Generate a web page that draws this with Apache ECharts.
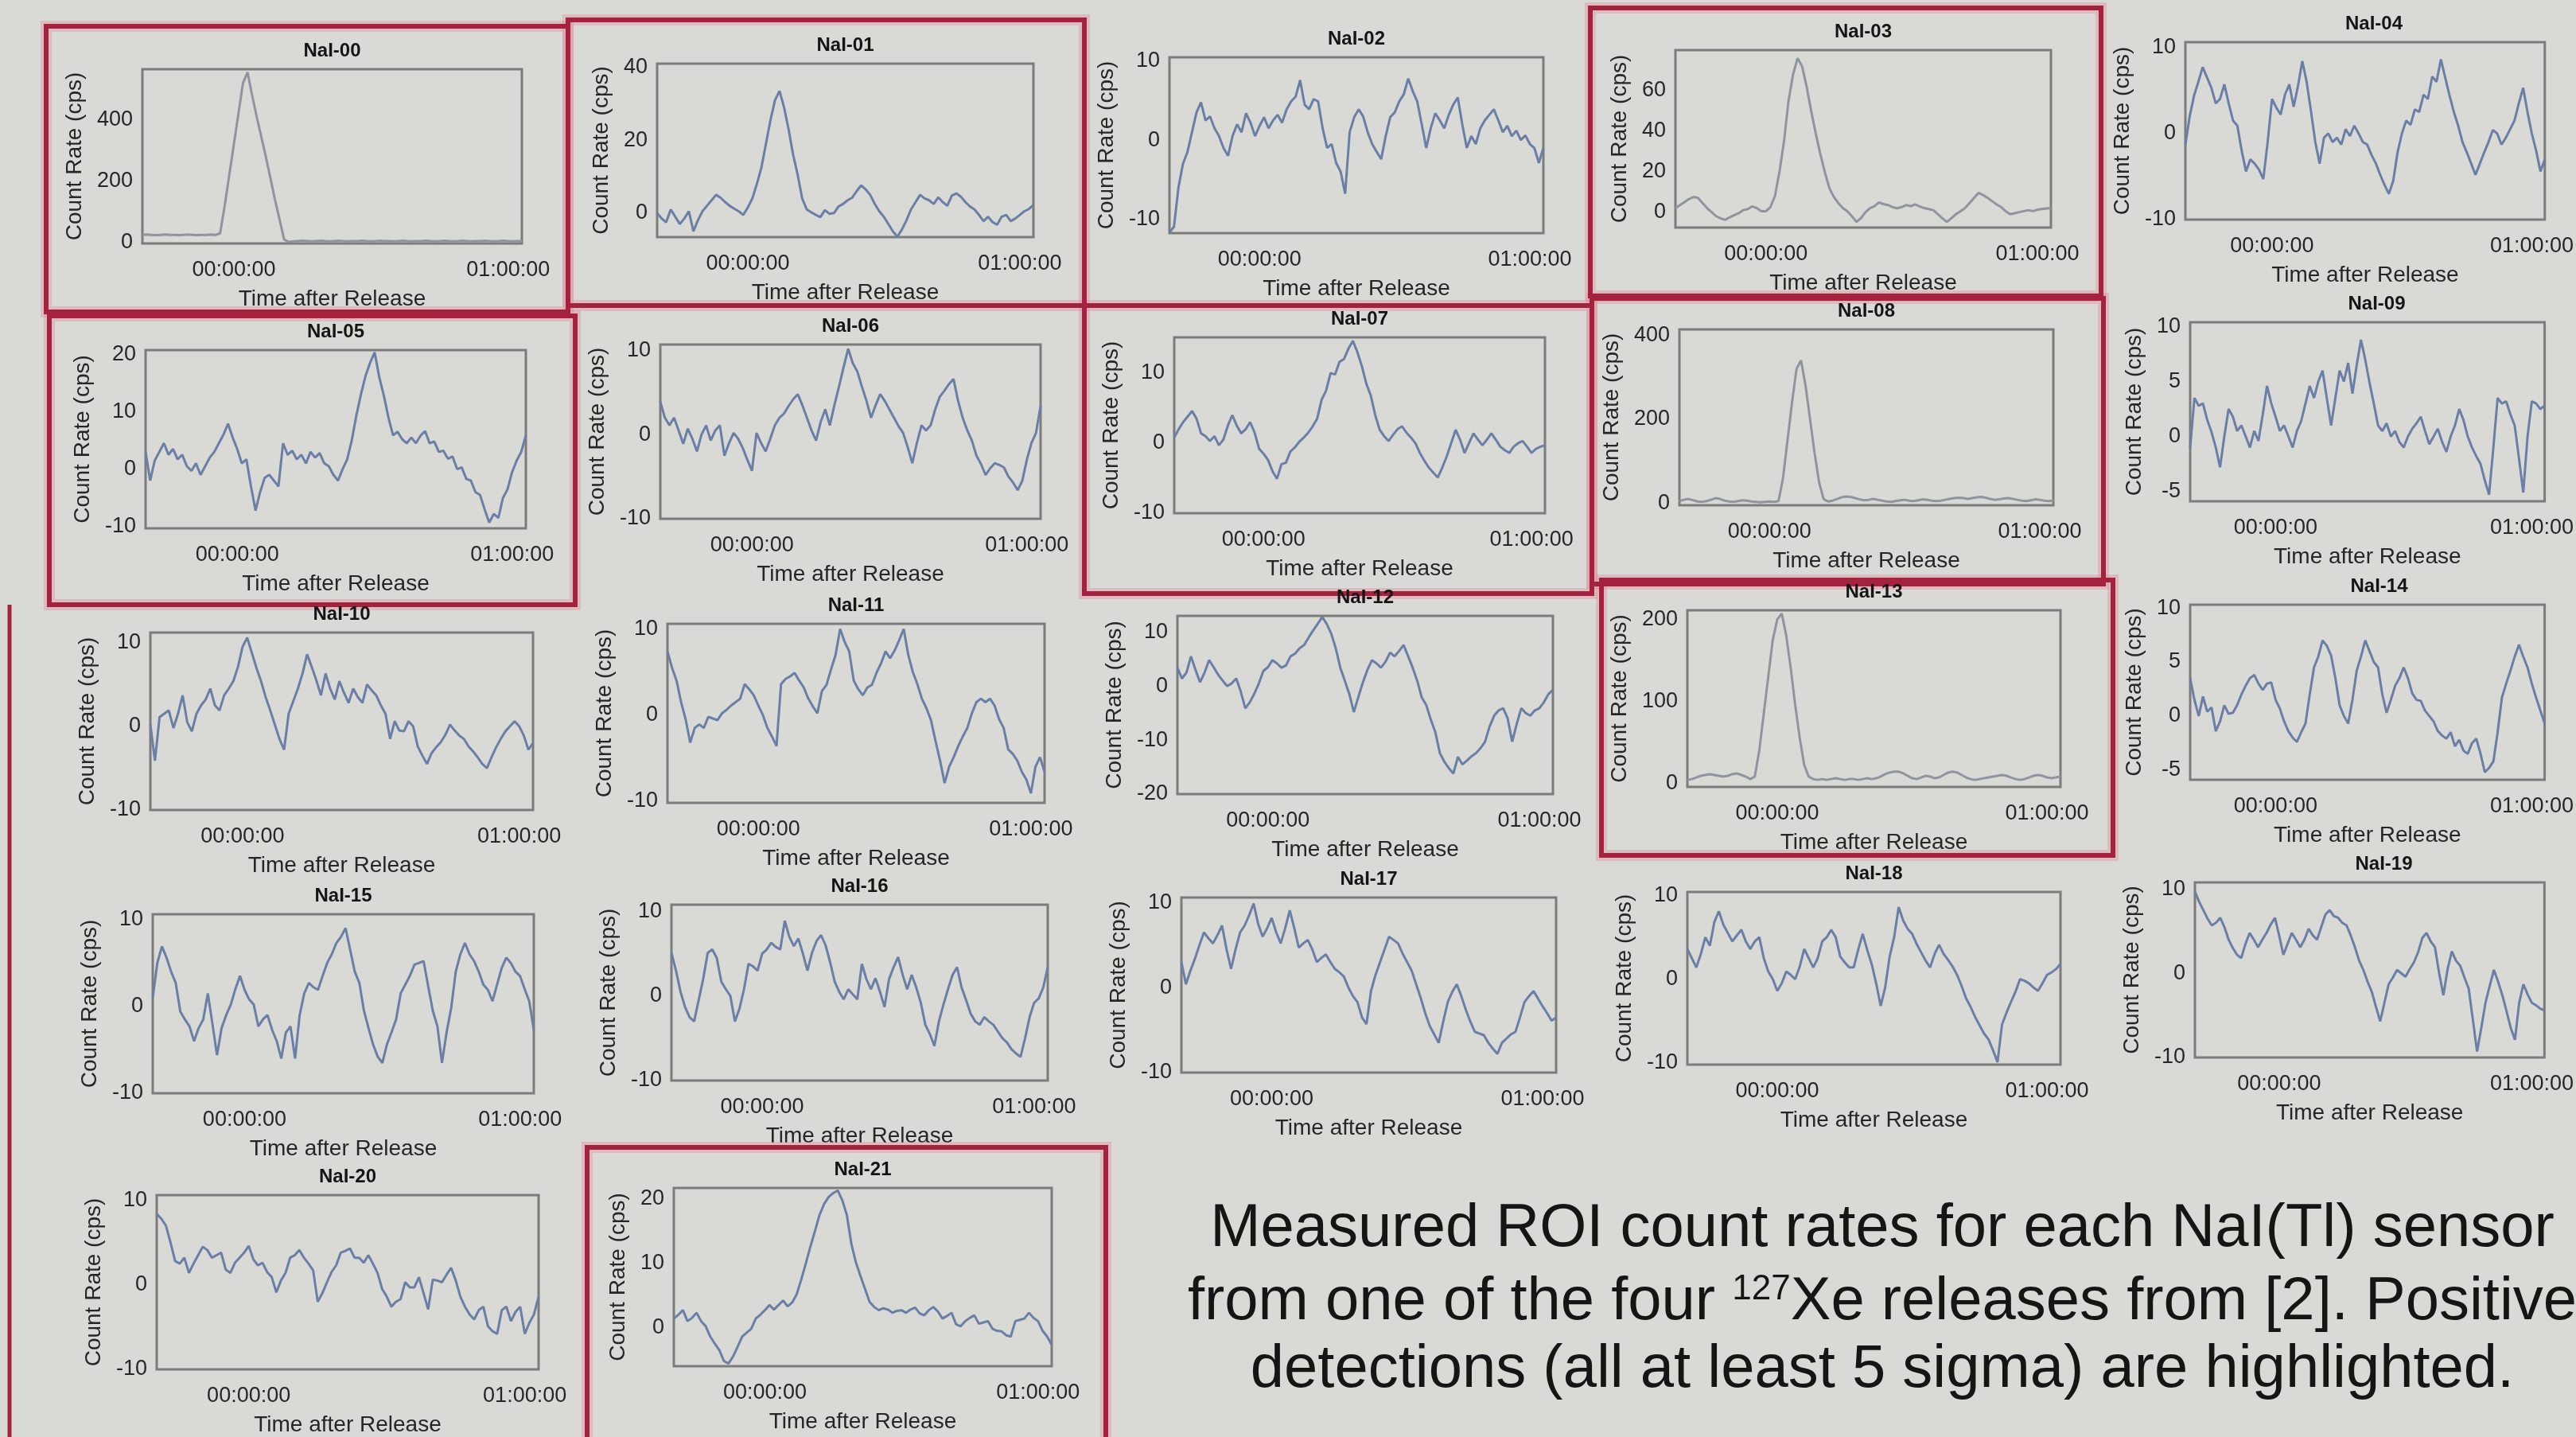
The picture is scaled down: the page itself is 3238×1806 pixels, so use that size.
<!DOCTYPE html>
<html>
<head>
<meta charset="utf-8">
<script src="https://cdn.jsdelivr.net/npm/echarts@6/dist/echarts.min.js"></script>
<style>
  html, body { margin: 0; padding: 0; background: #d9dad6; }
  #chart { width: 3238px; height: 1806px; }
</style>
</head>
<body>
<div id="chart"></div>
<script>
// ---------------- DATA ----------------
// sample times, minutes after release
const TIME = [-20,-19,-18,-17,-16,-15,-14,-13,-12,-11,-10,-9,-8,-7,-6,-5,-4,-3,-2,-1,
  0,1,2,3,4,5,6,7,8,9,10,11,12,13,14,15,16,17,18,19,20,21,22,23,24,25,26,27,28,29,
  30,31,32,33,34,35,36,37,38,39,40,41,42,43,44,45,46,47,48,49,50,51,52,53,54,55,56,57,58,59,
  60,61,62,63];

const X_TICKS = [0, 60];
const X_TICK_LABELS = ['00:00:00', '01:00:00'];

const NAMES = ['NaI-00','NaI-01','NaI-02','NaI-03','NaI-04','NaI-05','NaI-06','NaI-07','NaI-08','NaI-09',
  'NaI-10','NaI-11','NaI-12','NaI-13','NaI-14','NaI-15','NaI-16','NaI-17','NaI-18','NaI-19','NaI-20','NaI-21'];
// "Positive detections (all at least 5 sigma)"
const HIGHLIGHTED = ['NaI-00','NaI-01','NaI-03','NaI-05','NaI-07','NaI-08','NaI-13','NaI-21'];

const nai00 = [25,26,25,24,25,26,25,25,24,25, 26,25,24,25,25,26,25,30,120,220,
  320,420,520,555,480,410,345,280,210,140, 75,10,2,4,5,6,5,4,5,6, 5,4,5,6,5,4,5,5,6,5,
  4,5,6,5,5,4,5,6,5,4, 5,5,6,5,4,5,6,5,4,5, 6,5,4,5,5,6,5,4,5,6, 5,4,5,5];
const nai01 = [0,-1.5,-2.5,1,-1,-3,-1.5,0.5,-5,-2, 0.5,2,3.5,5,4.2,3,2,1.2,0.5,-0.5,
  1.5,4,8,12.5,19,25.5,31,33.5,29,23, 16,10.5,4,1,0.2,-0.5,-1.1,0.8,-0.2,0,
  1.8,2.5,3.5,4.2,6,7.6,6.5,5,2.5,0.5, -1,-3,-5,-6.5,-4.5,-2,1,3,5,4,
  3.5,2.5,4.3,3,2,4.8,5.4,4.5,3,1.8, 1,-0.5,-2.2,-1,-2.5,-3.2,-1,-0.5,-2.2,-1.5, -0.5,0.5,1.1,2.2];
const nai02 = [-11.7,-11,-6,-3,-1.5,1,3.5,4.8,2.5,3, 1.5,0.5,-1,-2,0.5,2,1,3.4,2.2,0.5,
  1.8,2.9,1.5,2.5,3.2,2.2,3.9,4.9,5.5,7.6, 4.5,3.9,5.2,4.9,1.5,-1,-0.5,-2.9,-4,-6.8,
  1,2.9,3.9,3,1,-0.5,-1.5,-2.4,0.5,2.9, 3.5,4.9,5.8,7.8,6.2,4.9,2,-1,1.5,3.4,
  2.5,1.5,3.2,4.5,5.4,2,-1,0.5,-0.5,1.5, 2.5,3.2,3.9,2.5,1,1.8,0.5,1.2,0,0.6, -0.5,-1,-2.9,-1];
const nai03 = [2,3.5,5,6.5,7.5,7,4.5,2,0,-2, -3,-3.8,-2.5,-1.5,-0.5,1,1.5,2.9,2,0.5,
  0.5,2.5,8,20,35,55,68,76,72,62, 50,39,29,20,12,7.6,4.5,2,0.5,-2,
  -4.8,-3,0,2,3,4.8,4,3.5,2.5,1.9, 2.5,3.5,3,3.8,2.8,2,1.5,1,-1,-3,
  -4.8,-3,-1,0.5,2,4.5,7,9.5,8.5,7, 5.5,3.8,2.5,0.5,-1,-0.5,0,0.5,1,0.5, 1.2,1.5,1.8,2];
const nai04 = [-1.3,2,4.4,6,7.7,6.5,5.3,3.5,4,5.7, 3.5,1.5,0.9,-2,-4.4,-3,-3.5,-4.2,-5.3,-1,
  4,3,2.2,4.5,5.7,3.1,5.5,8.4,6,2.6, -1,-3.5,-0.5,0,-1,-0.5,-1.3,0.5,-0.3,0.9,
  0,-1,-1.3,-2.5,-3.5,-4.8,-6,-7,-5.5,-2.2, 0,1.5,1,2.8,2.5,4.5,4,6.6,6,8.6,
  6.5,4.4,2.5,0.9,-1,-2.2,-3.5,-4.8,-3.5,-2.2, -1,0.4,0,-1.3,-0.5,0.5,1.5,3.5,5.3,2.5, 0,-2,-4.4,-3];
const nai05 = [3,-2,1.5,3,4.5,2.5,3.5,1.7,2.5,0.5, -0.3,1,-1,0.5,2,3,4.5,6,7.9,5.5,
  3.5,1,1.7,-3,-7.2,-4,-1.5,-1,-2,-3, 4.5,2.5,3.2,1.7,2.5,1,3,2,2.8,1,
  0.5,-1,-2,0,1.7,5,9.3,13,16.2,18.5, 20.3,16,12.8,9,5.9,6.5,5.2,4.5,5.5,4.5,
  5.8,6.6,4.5,4.8,3,3.2,1.8,2.2,0,0.3, -1.7,-2,-4,-4.5,-7,-9.3,-7.8,-8.5,-5,-3.5, -0.5,1.5,3,5.9];
const nai06 = [3.9,2,1.1,2,0.5,-1.1,0.7,-0.5,-2,0, 1.1,-0.7,0.5,1.1,-2.5,-1,0.2,-0.5,-1.6,-3,
  -4.3,0.2,-1,-2,-0.5,1.1,2,2.5,3.4,4.2, 4.8,3.5,2,0.5,-0.7,1.5,3,1.1,3.5,5.7,
  8,10.2,8.5,7.5,5.7,4,2,3.5,4.8,4, 3,2,1,0.2,-1.5,-3.4,-1,1.1,0.5,1.1,
  3,4.5,5.2,6,6.6,4,2,0.5,-0.7,-2.5, -3.5,-4.8,-4,-3.4,-3.6,-3.9,-5,-5.7,-6.6,-5.5, -3,-1,0.2,3.4];
const nai07 = [0.8,2,3,3.8,4.6,3.5,1.4,1,0.3,1, -0.3,0.5,2.5,4,2.5,1.4,2,3,1.5,-0.8,
  -1.5,-2.4,-4,-5.1,-3,-2.8,-1.2,-0.6,0.2,0.8, 1.5,2.4,3.5,6.2,7.5,10,9.8,11.6,12,13.5,
  14.6,13,11,8.5,6.8,4,1.9,1,0.3,1.2, 2,2.4,1.5,0.8,0,-1.4,-2.5,-3.5,-4.2,-4.9,
  -3.5,-1.9,0,1.9,0.5,-1.4,0,1.4,0.5,-0.3, 0.5,1.4,0.5,-0.5,-1,-1.4,-0.5,0,0.3,-0.5, -1.4,-0.8,-0.5,-0.3];
const nai08 = [5,8,10,7,4,3,5,8,12,10, 6,4,3,5,7,6,4,3,2,3,
  4,3,5,60,150,240,320,340,280,200, 120,50,10,4,6,10,14,16,15,12,
  9,7,8,10,8,6,4,3,5,7, 8,6,5,7,9,8,6,5,6,8,
  10,12,13,12,10,12,14,15,13,10, 8,9,11,12,10,8,6,5,7,9, 8,6,5,6];
const nai09 = [-1,3.5,2.8,3,1.5,0.4,-1,-2.8,0,2.5, 1.8,0.5,1,0,-1,0.5,-0.4,2,4.6,3,
  1.8,0.5,1,0,-1,0.5,1.4,3,4.6,3.5, 5,6,3.5,1,3.5,6,5,6.7,3.9,6.5,
  8.8,7,4.9,3,1,0.5,1.2,0,0.5,-0.5, -1,0,0.7,1.2,1.8,0.5,-0.7,0,0.7,-0.5,
  -1.4,0,1,2.5,1.5,0,-1,-1.8,-2.5,-4, -5.3,-1,3.5,3,3.2,2,1,-2,-5.1,0, 3.2,3,2.5,2.8];
const nai10 = [0.2,-4.1,1.1,1.5,1.9,-0.2,1.5,3.7,0.5,-0.6, 1.5,2.5,3.2,4.5,2.5,1.9,3.7,4.5,5.4,7.1,
  9.5,10.6,8.8,7,5.4,3.5,1.9,0.2,-1.5,-2.8, 1.5,3,4.5,6.3,8.6,7.1,5.5,3.7,6.3,4.5,
  3.2,5.4,4,2.8,4.5,3.5,2.8,5,4.3,3.7, 2.5,1.5,-1.5,0.6,-0.5,-0.6,0.6,0,-2.4,-3.5,
  -4.5,-3.2,-2.5,-1.9,-1,0.2,-0.5,-1.1,-1.5,-2.4, -3,-3.7,-4.5,-5,-3.7,-2.5,-1.5,-0.6,0,0.6, 0,-1.1,-2.8,-2];
const nai11 = [7.4,5.5,4,1.5,-0.5,-3.2,-1.5,-1.1,-1.5,-0.2, -0.4,-0.6,0.2,0.6,1.1,1.5,1.9,3.6,3,2.3,
  1.1,0,-1.5,-2.5,-3.6,3.6,4.2,4.5,4.9,4, 3.2,1.9,1,0.2,2.8,3.5,5.3,7,10,8.5,
  7.4,4,3,2.3,3.2,3.5,4.9,6,7.4,6.6, 7.5,8.7,10,7,5,3.6,1.9,0.8,-0.6,-3,
  -5.3,-7.9,-6,-4.9,-3.6,-2.5,-1.5,0.2,1.5,1.9, 1.5,1.9,1.1,-0.5,-1.5,-4,-4.5,-5.3,-6.6,-7.5, -9.1,-6,-4.9,-6.6];
const nai12 = [3.4,1.4,2.5,5.5,3,0.7,2.5,4.8,3.5,2.1, 1,0,0.5,1.4,-1,-4.1,-3,-1.4,0.5,2.8,
  3.5,4.8,4.2,3.4,3.8,5.5,6,7,7.6,9, 10.3,11.5,12.8,11.5,9.7,7,3.4,1,-1.5,-4.8,
  -2,0.7,3,4.8,4.2,3.4,4.5,6.2,5.5,6.5, 7.6,5.5,3.4,1,-2.1,-3.5,-6.2,-8.5,-12.4,-14,
  -15.2,-16.2,-13.1,-14.5,-13.8,-13,-12.4,-11.5,-10.3,-7.5, -5.5,-4.5,-4.1,-6,-10.3,-7,-4.1,-5,-5.5,-4.5, -4.1,-3,-1.5,-0.7];
const nai13 = [4,5,7,9,10,11,10,9,8,9, 11,12,10,8,5,8,40,85,130,175,
  200,207,180,140,95,55,22,8,5,4, 5,4,5,6,5,4,5,5,4,5,
  6,5,6,8,11,13,14,14,12,9, 6,5,7,9,8,6,7,10,13,14,
  13,10,7,5,4,5,6,7,8,9, 10,9,7,5,4,5,7,9,10,9, 7,6,7,8];
const nai14 = [3.5,1.5,0,1.8,0.4,0.8,-1.4,-0.5,1,0.2, 0.3,1,2,2.8,3.5,3.8,3,2.4,3,3.1,
  1.5,0.7,-0.5,-1.4,-2,-2.4,-1.5,-0.7,2,4.5, 5.5,7,6.5,5.6,3.5,1,0,-0.7,1.5,4.2,
  5.5,7,6,5,4.5,2,0.3,1.5,2.8,3.5, 4.5,3.5,2.1,1.5,1.4,0.5,0,-0.5,-1.4,-1.8,
  -2.1,-1.5,-2.8,-2.2,-3.2,-3.5,-2.5,-2.1,-3.5,-5.2, -4.8,-4.2,-1.5,1.7,3,4.2,5.5,6.6,5.5,4.5, 3,1.7,0.5,-0.7];
const nai15 = [1,5,6.9,5.6,4,2.7,-0.6,-1.5,-2.3,-4, -2.5,-1.5,1.5,-2,-5.6,-2.5,-1,0.2,2,3.5,
  1.9,0.8,0.2,-2.3,-1.5,-1,-2.7,-4,-6,-3, -2.3,-6,-1,1.5,2.7,2.2,1.9,3.5,5,6,
  7.3,8,9,6.5,4,2.7,-0.5,-2.5,-4.4,-5.8, -6.5,-4.4,-3,-1.5,1.5,2.5,3.5,4.8,5,5.2,
  2.3,-0.5,-2.3,-6.5,-3,-0.2,4,6,7.3,6, 5.2,4,2.5,1.9,0.6,2.5,4.4,5.6,5,4, 3.5,2,0.6,-2.7];
const nai16 = [5.1,3,0.5,-1.3,-2.5,-3,-0.5,2,5.1,5.5, 4.5,1.7,0.8,0,-3,-1.5,0.8,3.8,3.5,3,
  5,5.5,6.3,5.8,5.5,8.9,7,5.9,6.8,5, 3,5.1,6.5,7.2,6,4,1.7,0.5,-0.4,0.8,
  0.2,-0.4,3.8,2,0.8,2.1,0.5,-1.3,2,3.4, 4.6,2.5,0.8,2.5,1,-0.8,-3.4,-4.5,-5.9,-3,
  -1,0.8,2.5,3.4,1,-0.5,-2.1,-3,-3.4,-2.5, -3,-3.4,-4.2,-5,-5.5,-6.3,-6.8,-7.2,-5,-2.5, -0.8,-0.3,1,3.4];
const nai17 = [3,0.4,2,3.4,5,6.5,5.8,5.2,6.2,7.3, 4.5,2.2,4.5,6.5,7.3,8.5,9.9,7.5,6,7,
  8.2,6.5,5.2,7,9.1,7,4.7,5.2,5.6,4.5, 3,3.5,3.9,3,2.2,1.8,1.3,0,-1,-1.7,
  -3.5,-4.3,-0.4,1.5,3,4.5,6,5.6,5.2,4, 3,2,0.4,-1.2,-3,-4.5,-5.5,-6.5,-4,-1.7,
  -0.5,0.4,-1,-2.6,-4,-5.2,-5.4,-5.6,-6.5,-7.2, -7.8,-6.5,-6,-5.5,-5.2,-3.5,-1.7,-1,-0.4,-1.3, -2.2,-3,-3.9,-3.5];
const nai18 = [3.6,2.5,1.4,3,5,4,6.8,8.1,6.5,5.5, 4.5,5.2,5.9,4.5,3.6,4.5,5,2.5,0.9,0,
  -1.4,-0.5,0.9,0.5,0,1.5,3.6,2.5,1.4,2.5, 4.5,5,5.9,5,2.7,2,1.4,1.4,3.5,5.4,
  3.5,1.8,-0.5,-3.2,-1,2.7,5,8.6,7,6, 5.4,4.2,3.2,2.2,1.4,3,4.1,3,2.3,1.5,
  0.5,-0.8,-2.3,-3.3,-4.5,-5.5,-6.5,-7.2,-8.5,-9.9, -5.4,-4,-2.7,-1.5,0,-0.2,-0.5,-1,-1.4,-0.5, 0.5,0.8,1.2,1.8];
const nai19 = [9.7,8.5,7.5,6.5,5.7,6,6.6,5.5,4,3, 2.2,1.8,3.5,4.8,4,3.1,4,4.8,5.8,6.6,
  4.5,2.2,3.5,4.8,4,3.1,4,5.3,4.5,4, 5.5,7,7.5,6.8,6.6,6,5.7,4.5,3.1,1.5,
  0.4,-1,-2.2,-4,-5.7,-3.5,-1.3,-0.5,0.4,0, -0.4,0.5,1.3,2.5,4.2,4.8,3.8,3.1,0,-2.6,
  0.5,2.6,1.5,0.9,-0.5,-1.8,-5.5,-9.3,-6.5,-3.5, -1.5,0.4,-1,-2.6,-4.5,-6.5,-7.9,-3.5,-1.3,-2.5, -3.5,-3.8,-4.2,-4.4];
const nai20 = [8.4,7.8,7,5,2.8,2.5,3.2,1.4,2.5,3.5, 4.5,4.1,3.2,3.5,3.8,1.8,1.4,2.6,3.2,3.8,
  4.6,3,2.3,2.6,1.5,0.9,-0.9,0.5,1.4,3.2, 3.5,4.1,3.2,2.5,1.7,-2,-1,0.3,1.5,2.3,
  3.8,4,4.3,3.2,3.2,2.6,3.5,2.5,1.4,-0.5, -1.4,-2.6,-2,-1.7,0.3,-0.3,-0.3,0.9,-1,-2.9,
  0.6,0.5,0.3,1.2,2,0.5,-1.4,-2.6,-3.5,-4.1, -3,-2.6,-4.9,-5.5,-5.8,-3,-2.6,-4.3,-3.2,-2.6, -5.8,-4.5,-3.5,-1.4];
const nai21 = [1.4,2,2.7,1,1.5,2.3,1,0.2,-1.4,-2.5, -3.5,-5.2,-5.6,-4.5,-3,-1.4,-0.8,-0.2,1.4,2,
  2.7,3.5,2.8,3.5,4.2,3.3,3.9,5.2,7.5,10, 12.6,15,17.5,19.2,20.3,20.9,21.3,19.8,17.5,13,
  10.1,8,6,4,3.2,2.7,3,2.8,2.3,2.6, 2.7,2.3,2.8,3.1,2.2,1.9,2.7,3.2,2.5,1.4,
  1.8,2.3,0.5,0.2,1,1.5,1.9,0.6,0.8,1, -0.2,-0.5,-0.6,-1.2,-1.4,1,1.2,1.4,2.3,1.5, 1,-0.5,-1.4,-2.7];

const SERIES_VALUES = [nai00,nai01,nai02,nai03,nai04,nai05,nai06,nai07,nai08,nai09,nai10,
  nai11,nai12,nai13,nai14,nai15,nai16,nai17,nai18,nai19,nai20,nai21];

// y-axis tick labels per panel
const Y_TICKS = [[0,200,400],[0,20,40],[-10,0,10],[0,20,40,60],[-10,0,10],[-10,0,10,20],
  [-10,0,10],[-10,0,10],[0,200,400],[-5,0,5,10],[-10,0,10],[-10,0,10],[-20,-10,0,10],
  [0,100,200],[-5,0,5,10],[-10,0,10],[-10,0,10],[-10,0,10],[-10,0,10],[-10,0,10],[-10,0,10],[0,10,20]];

// ---------------- AXIS LIMITS (min, max of each count-rate axis) ----------------
const Y_LIMITS = [[-3,565],[-6.6,41],[-11.8,10.5],[-7.6,80],[-10,10.6],[-10.3,20.7],[-10,10.7],
  [-10,15.1],[-5,414],[-5.9,10.4],[-10,11.2],[-10.2,10.6],[-20,13],[-4.6,211],[-5.9,10.3],
  [-10,10.6],[-10,10.8],[-10,10.6],[-10.2,10.4],[-10,10.8],[-10,10.6],[-6,21.7]];
const X_LIMITS = [-20, 63];

// ---------------- LAYOUT (pixel rectangles of each plot: x0, y0, x1, y1) ----------------
const RECTS = [
  [179,87,656,306],[826,80,1299,298],[1470,72,1940,293],[2106,63,2578,286],[2747,53,3221,276],
  [183,440,661,664],[830,433,1308,652],[1476,424,1942,645],[2111,414,2581,635],[2753,405,3222,630],
  [189,795,670,1018],[839,784,1313,1009],[1480,774,1952,998],[2121,767,2590,989],[2753,760,3228,980],
  [192,1149,671,1374],[844,1137,1317,1358],[1485,1128,1956,1348],[2121,1121,2590,1338],[2759,1109,3234,1329],
  [197,1502,677,1730],[847,1493,1322,1717]];
// red highlight frames [x0, y0, x1, y1]
const FRAMES = {
  'NaI-00':[58,33,714,392], 'NaI-01':[714,25,1363,384], 'NaI-03':[1999,10,2641,372],
  'NaI-05':[62,397,723,760], 'NaI-07':[1363,384,2001,746], 'NaI-08':[2001,375,2644,734],
  'NaI-13':[2013,729,2656,1075], 'NaI-21':[738,1442,1390,1840]
};
const PEAK_PANELS = ['NaI-00','NaI-03','NaI-08','NaI-13'];

const FONT = '"Liberation Sans", Arial, "DejaVu Sans", sans-serif';
const TXT = '#262626';
const BLUE = '#6a7ea6';
const GREY = '#8f949e';
const RED = '#a4223e';
const TICK_FS = 27, NAME_FS = 28, TITLE_FS = 24;

// measure tick label width to place the y-axis title like matplotlib does
const mctx = document.createElement('canvas').getContext('2d');
mctx.font = TICK_FS + 'px ' + FONT;
function labelWidth(list) {
  let w = 0;
  list.forEach(v => { w = Math.max(w, mctx.measureText(String(v)).width); });
  return w;
}

const grids = [], xAxes = [], yAxes = [], series = [], titles = [];
NAMES.forEach((name, i) => {
  const [x0, y0, x1, y1] = RECTS[i];
  grids.push({
    left: x0, top: y0, width: x1 - x0, height: y1 - y0,
    show: true, borderColor: '#7c7c7c', borderWidth: 3, backgroundColor: 'rgba(0,0,0,0)'
  });
  xAxes.push({
    gridIndex: i, type: 'value', min: X_LIMITS[0], max: X_LIMITS[1],
    name: 'Time after Release', nameLocation: 'middle', nameGap: 56,
    nameTextStyle: { fontSize: NAME_FS, color: TXT, fontFamily: FONT },
    axisLine: { show: false }, axisTick: { show: false }, splitLine: { show: false },
    axisLabel: {
      customValues: X_TICKS, margin: 20, fontSize: TICK_FS, color: TXT, fontFamily: FONT,
      formatter: v => X_TICK_LABELS[X_TICKS.indexOf(v)]
    }
  });
  yAxes.push({
    gridIndex: i, type: 'value', min: Y_LIMITS[i][0], max: Y_LIMITS[i][1],
    name: 'Count Rate (cps)', nameLocation: 'middle',
    nameGap: 14 + labelWidth(Y_TICKS[i]) + 12,
    nameTextStyle: { fontSize: NAME_FS, color: TXT, fontFamily: FONT },
    axisLine: { show: false }, axisTick: { show: false }, splitLine: { show: false },
    axisLabel: { customValues: Y_TICKS[i], margin: 12, fontSize: TICK_FS, color: TXT, fontFamily: FONT }
  });
  series.push({
    type: 'line', xAxisIndex: i, yAxisIndex: i, showSymbol: false, animation: false,
    clip: true,
    lineStyle: { width: 3, color: PEAK_PANELS.includes(name) ? GREY : BLUE },
    data: TIME.map((t, k) => [t, SERIES_VALUES[i][k]])
  });
  titles.push({
    text: name, left: (x0 + x1) / 2, top: y0 - 35, textAlign: 'center', padding: 0,
    textStyle: { fontSize: TITLE_FS, fontWeight: 'bold', color: '#151515', fontFamily: FONT }
  });
});

const graphics = [];
HIGHLIGHTED.forEach(name => {
  const [x0, y0, x1, y1] = FRAMES[name];
  graphics.push({
    type: 'rect', z: 1, shape: { x: x0, y: y0, width: x1 - x0, height: y1 - y0 },
    style: { fill: 'none', stroke: 'rgba(226,130,150,0.35)', lineWidth: 14 }
  });
});
HIGHLIGHTED.forEach(name => {
  const [x0, y0, x1, y1] = FRAMES[name];
  graphics.push({
    type: 'rect', z: 2, shape: { x: x0, y: y0, width: x1 - x0, height: y1 - y0 },
    style: { fill: 'none', stroke: RED, lineWidth: 6 }
  });
});
graphics.push({
  type: 'line', z: 2, shape: { x1: 12, y1: 760, x2: 12, y2: 1806 },
  style: { stroke: RED, lineWidth: 5 }
});

const CAPTION = [
  'Measured ROI count rates for each NaI(Tl) sensor',
  'from one of the four {sup|127}Xe releases from [2]. Positive',
  'detections (all at least 5 sigma) are highlighted.'
];
const CAPTION_Y = [1545, 1637, 1722];
CAPTION.forEach((line, i) => {
  graphics.push({
    type: 'text', x: 2366, y: CAPTION_Y[i], z: 3,
    style: {
      text: line, fontSize: 76, fontFamily: FONT, fill: '#151515',
      align: 'center', verticalAlign: 'middle',
      rich: { sup: { fontSize: 44, fontFamily: FONT, fill: '#151515', verticalAlign: 'top', lineHeight: 44 } }
    }
  });
});

const chart = echarts.init(document.getElementById('chart'), null, { renderer: 'canvas' });
chart.setOption({
  backgroundColor: '#d9dad6',
  animation: false,
  title: titles,
  grid: grids,
  xAxis: xAxes,
  yAxis: yAxes,
  series: series,
  graphic: { elements: graphics }
});
</script>
</body>
</html>
